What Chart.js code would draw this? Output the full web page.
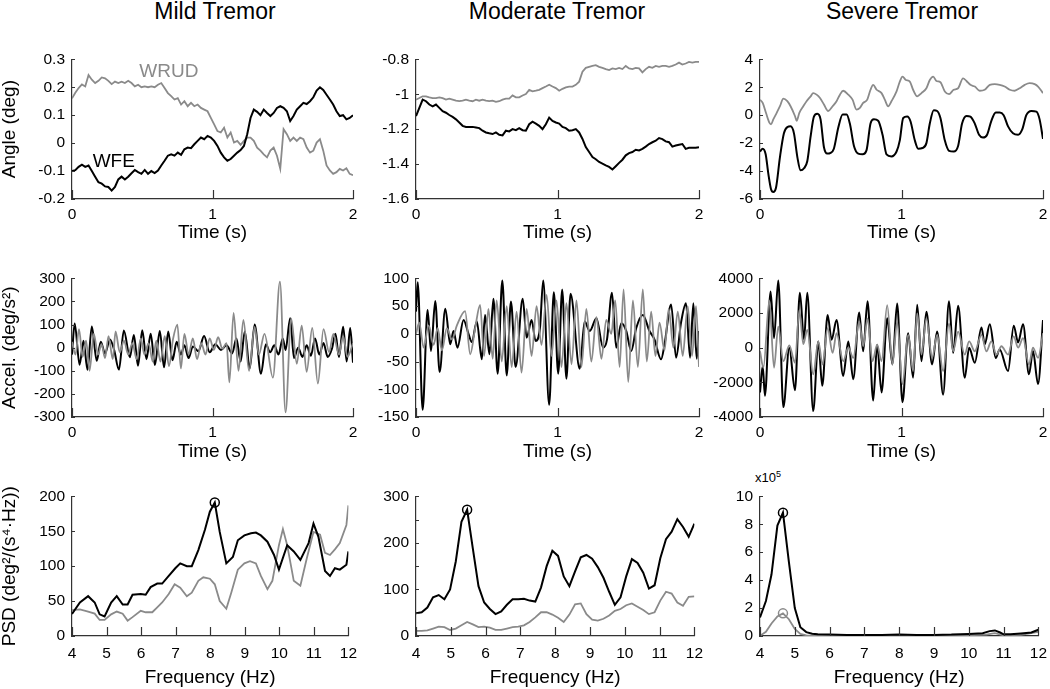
<!DOCTYPE html>
<html>
<head>
<meta charset="utf-8">
<title>Tremor recordings</title>
<script src="https://cdn.jsdelivr.net/npm/chart.js@4.4.1/dist/chart.umd.min.js"></script>
<style>
    body { margin: 0; background: #fff; }
    #figure { position: relative; width: 1050px; height: 689px; overflow: hidden; font-family: "Liberation Sans", Arial, Helvetica, sans-serif; }
    #figure canvas { position: absolute; }
    .colTitle { position: absolute; top: 0; width: 300px; text-align: center; font-size: 23px; line-height: 23px; color: #000; }
    .scaleNote { position: absolute; font-size: 13px; line-height: 13px; color: #000; }
    .scaleNote sup { font-size: 9px; vertical-align: 5px; line-height: 0; }
</style>
</head>
<body>
<div id="figure">
    <div class="colTitle" style="left: 65px;">Mild Tremor</div>
    <div class="colTitle" style="left: 407px;">Moderate Tremor</div>
    <div class="colTitle" style="left: 752px;">Severe Tremor</div>
    <div class="scaleNote" style="left: 755px; top: 471px;">x10<sup>5</sup></div>
</div>
<script>
const FONT = '"Liberation Sans", Arial, Helvetica, sans-serif';
const AXIS_COLOR = '#333';
const BLACK = '#000';
const GRAY = '#8a8a8a';

// ---- tick / axis ranges [min, max, step] ----
const timeRange = [0, 2, 1];
const freqRange = [4, 12, 1];
const mildAngleRange = [-0.2, 0.3, 0.1];
const modAngleRange = [-1.6, -0.8, 0.2];
const sevAngleRange = [-6, 4, 2];
const mildAccRange = [-300, 300, 100];
const modAccRange = [-150, 100, 50];
const sevAccRange = [-4000, 4000, 2000];
const mildPsdRange = [0, 200, 50];
const modPsdRange = [0, 300, 50];
const sevPsdRange = [0, 10, 2]; // x10^5

// ---- Mild tremor: angle (deg), evenly sampled over 0..2 s ----
const mildAngleWFE = [
    -0.10, -0.097, -0.085, -0.077, -0.085, -0.08, -0.10, -0.12, -0.14, -0.145,
    -0.155, -0.157, -0.17, -0.157, -0.13, -0.12, -0.13, -0.12, -0.108, -0.096,
    -0.104, -0.11, -0.096, -0.11, -0.10, -0.107, -0.098, -0.08, -0.063, -0.045,
    -0.04, -0.045, -0.034, -0.042, -0.022, -0.016, -0.018, -0.004, 0.008, 0.02,
    0.014, 0.026, 0.02, 0.008, -0.01, -0.034, -0.051, -0.063, -0.057, -0.045,
    -0.034, -0.025, -0.01, 0.032, 0.09, 0.12, 0.112, 0.10, 0.12, 0.108,
    0.097, 0.108, 0.126, 0.132, 0.126, 0.114, 0.079, 0.097, 0.12, 0.132,
    0.144, 0.14, 0.15, 0.164, 0.188, 0.20, 0.19, 0.173, 0.156, 0.138,
    0.114, 0.097, 0.10, 0.085, 0.09, 0.10
];
const mildAngleWRUD = [
    0.16, 0.18, 0.197, 0.21, 0.203, 0.244, 0.227, 0.215, 0.223, 0.235,
    0.232, 0.223, 0.211, 0.22, 0.215, 0.22, 0.215, 0.223, 0.215, 0.203,
    0.209, 0.2, 0.203, 0.2, 0.203, 0.2, 0.209, 0.215, 0.197, 0.179,
    0.168, 0.156, 0.161, 0.138, 0.15, 0.132, 0.144, 0.132, 0.138, 0.126,
    0.12, 0.114, 0.09, 0.067, 0.043, 0.038, 0.055, 0.02, 0.038, 0.002,
    0.008, -0.006, 0.008, 0.02, 0.02, 0.008, -0.016, -0.027, -0.04, -0.051,
    -0.027, -0.016, -0.045, -0.092, 0.05, 0.032, 0.008, 0.02, 0.008, 0.02,
    0.014, -0.016, -0.034, -0.027, 0.002, 0.014, -0.027, -0.08, -0.098, -0.11,
    -0.104, -0.092, -0.098, -0.09, -0.11, -0.115
];

// ---- Moderate tremor: angle (deg), evenly sampled over 0..2 s ----
const modAngleWFE = [
    -1.125, -1.078, -1.031, -1.04, -1.059, -1.069, -1.059, -1.078, -1.097, -1.106,
    -1.119, -1.13, -1.144, -1.162, -1.181, -1.187, -1.187, -1.187, -1.19, -1.194,
    -1.209, -1.219, -1.224, -1.228, -1.219, -1.232, -1.236, -1.209, -1.213, -1.2,
    -1.206, -1.194, -1.206, -1.209, -1.172, -1.157, -1.168, -1.181, -1.2, -1.172,
    -1.134, -1.153, -1.162, -1.168, -1.187, -1.194, -1.209, -1.206, -1.2, -1.219,
    -1.256, -1.303, -1.331, -1.36, -1.372, -1.388, -1.397, -1.407, -1.416, -1.431,
    -1.412, -1.393, -1.375, -1.35, -1.337, -1.331, -1.318, -1.322, -1.313, -1.3,
    -1.285, -1.275, -1.266, -1.251, -1.257, -1.27, -1.275, -1.3, -1.294, -1.289,
    -1.285, -1.313, -1.307, -1.307, -1.307, -1.303
];
const modAngleWRUD = [
    -1.031, -1.022, -1.012, -1.012, -1.018, -1.022, -1.022, -1.018, -1.022, -1.031,
    -1.025, -1.031, -1.037, -1.04, -1.037, -1.031, -1.037, -1.04, -1.031, -1.037,
    -1.031, -1.037, -1.04, -1.037, -1.044, -1.04, -1.031, -1.025, -1.025, -1.007,
    -1.018, -1.018, -1.007, -0.999, -0.975, -0.984, -0.98, -0.975, -0.965, -0.956,
    -0.946, -0.956, -0.965, -0.98, -0.969, -0.961, -0.956, -0.956, -0.946, -0.928,
    -0.871, -0.849, -0.843, -0.838, -0.834, -0.843, -0.849, -0.856, -0.862, -0.852,
    -0.856, -0.849, -0.856, -0.838, -0.852, -0.856, -0.849, -0.852, -0.875, -0.856,
    -0.843, -0.849, -0.838, -0.843, -0.838, -0.838, -0.843, -0.838, -0.83, -0.819,
    -0.83, -0.824, -0.815, -0.819, -0.815, -0.815
];

// ---- Severe tremor: angle (deg), time (s) / value pairs ----
const sevAngleTimeWFE = [
    0, 0.019, 0.04, 0.059, 0.078, 0.094, 0.113, 0.141, 0.169, 0.193,
    0.216, 0.24, 0.264, 0.287, 0.311, 0.334, 0.358, 0.381, 0.405, 0.428,
    0.452, 0.475, 0.499, 0.522, 0.553, 0.584, 0.612, 0.635, 0.664, 0.694,
    0.725, 0.753, 0.781, 0.805, 0.835, 0.866, 0.894, 0.929, 0.965, 0.988,
    1.012, 1.04, 1.064, 1.094, 1.118, 1.148, 1.176, 1.2, 1.228, 1.252,
    1.275, 1.306, 1.336, 1.369, 1.4, 1.428, 1.459, 1.487, 1.518, 1.548,
    1.576, 1.605, 1.635, 1.666, 1.694, 1.722, 1.753, 1.788, 1.824, 1.854,
    1.882, 1.918, 1.953, 1.976, 2.0
];
const sevAngleWFE = [
    -2.6, -2.4, -2.8, -4.2, -5.3, -5.5, -5.2, -3.0, -1.3, -0.85,
    -0.8, -1.3, -3.0, -3.95, -3.8, -3.3, -1.5, -0.1, 0.1, -0.3,
    -2.3, -2.75, -2.7, -2.4, -0.9, 0.05, 0.05, -0.6, -2.2, -2.75,
    -2.8, -2.5, -0.6, -0.3, -0.4, -1.4, -2.8, -2.95, -2.6, -1.8,
    -0.2, -0.1, -0.45, -1.8, -2.4, -2.35, -2.0, -0.6, 0.35, 0.3,
    -0.2, -1.8, -2.55, -2.6, -2.2, -0.6, -0.05, -0.1, -0.6, -1.4,
    -1.6, -1.4, -0.4, 0.2, 0.2, 0.0, -0.8, -1.3, -1.4, -1.0,
    0.0, 0.3, 0.25, -0.3, -1.7
];
const sevAngleTimeWRUD = [
    0, 0.019, 0.042, 0.066, 0.078, 0.094, 0.118, 0.141, 0.165, 0.193,
    0.216, 0.247, 0.259, 0.278, 0.306, 0.329, 0.358, 0.376, 0.4, 0.424,
    0.452, 0.482, 0.513, 0.541, 0.565, 0.588, 0.624, 0.654, 0.682, 0.706,
    0.729, 0.758, 0.781, 0.8, 0.824, 0.859, 0.882, 0.906, 0.929, 0.965,
    0.988, 1.007, 1.031, 1.059, 1.082, 1.111, 1.141, 1.176, 1.2, 1.224,
    1.247, 1.275, 1.306, 1.336, 1.369, 1.4, 1.435, 1.459, 1.487, 1.518,
    1.553, 1.588, 1.624, 1.659, 1.694, 1.729, 1.765, 1.8, 1.835, 1.871,
    1.906, 1.941, 1.965, 2.0
];
const sevAngleWRUD = [
    1.1, 0.88, 0.17, -0.53, -0.65, -0.3, 0.17, 0.64, 1.18, 1.0,
    0.64, -0.06, -0.4, 0.17, 0.64, 1.0, 1.35, 1.58, 1.47, 1.23,
    0.76, 0.3, 0.64, 1.0, 1.47, 1.75, 1.47, 1.11, 0.4, 0.52,
    0.88, 1.11, 1.82, 2.17, 1.82, 1.58, 1.11, 0.64, 1.0, 1.7,
    2.4, 2.76, 2.52, 2.4, 1.82, 1.35, 1.58, 1.93, 2.52, 2.76,
    2.45, 2.36, 1.7, 1.51, 1.82, 1.93, 2.64, 2.45, 2.17, 2.05,
    1.75, 1.82, 2.17, 2.22, 2.17, 2.05, 1.82, 1.75, 1.93, 2.17,
    2.29, 2.22, 2.05, 1.58
];

// ---- Mild tremor: acceleration (deg/s^2) ----
const mildAccTimeWFE = [
    0, 0.019, 0.054, 0.082, 0.11, 0.141, 0.176, 0.205, 0.235, 0.27,
    0.3, 0.334, 0.369, 0.412, 0.44, 0.47, 0.5, 0.53, 0.56, 0.59,
    0.625, 0.655, 0.685, 0.715, 0.745, 0.775, 0.8, 0.83, 0.86, 0.9,
    0.94, 0.98, 1.02, 1.06, 1.1, 1.14, 1.17, 1.2, 1.23, 1.265,
    1.3, 1.345, 1.38, 1.41, 1.44, 1.47, 1.5, 1.52, 1.553, 1.58,
    1.61, 1.64, 1.67, 1.7, 1.73, 1.76, 1.79, 1.82, 1.85, 1.875,
    1.9, 1.93, 1.955, 1.98, 2.0
];
const mildAccWFE = [
    -30, 105, -74, 30, -96, 92, -57, 25, -25, 35,
    -10, -95, 74, -42, 55, -78, 75, -50, 60, -75,
    72, -85, 70, -55, 25, -30, 10, -45, 5, -15,
    50, -20, 15, -10, 10, -25, 40, -60, 70, -90,
    100, -113, 15, -20, 10, -30, 40, -10, 127, -45,
    0, -40, 10, -35, 40, -30, 20, -40, -5, 60,
    -40, 90, -60, 85, -65
];
const mildAccTimeWRUD = [
    0, 0.025, 0.05, 0.075, 0.1, 0.125, 0.155, 0.185, 0.21, 0.235,
    0.26, 0.29, 0.31, 0.34, 0.37, 0.4, 0.43, 0.46, 0.49, 0.515,
    0.545, 0.575, 0.6, 0.63, 0.66, 0.69, 0.72, 0.75, 0.775, 0.8,
    0.83, 0.86, 0.89, 0.92, 0.95, 0.98, 1.01, 1.04, 1.07, 1.1,
    1.12, 1.15, 1.185, 1.22, 1.26, 1.3, 1.33, 1.37, 1.43, 1.48,
    1.52, 1.56, 1.6, 1.635, 1.67, 1.71, 1.75, 1.79, 1.83, 1.86,
    1.9, 1.93, 1.96, 2.0
];
const mildAccWRUD = [
    25, -30, 80, -40, 30, -100, 60, -30, 15, -45,
    50, -50, 70, -20, 30, -30, 20, -50, 40, -30,
    20, -60, 30, -60, 50, -80, 40, 100, -90, 60,
    -30, 40, -50, 20, -30, 40, -10, 45, -5, 20,
    -150, 150, -100, 120, -100, 90, -30, 60, -130, 285,
    -280, 125, -70, 95, -105, 85, -155, 80, -20, 60,
    -30, 50, -40, 20
];

// ---- Moderate tremor: acceleration (deg/s^2) ----
const modAccTimeWFE = [
    0, 0.012, 0.047, 0.082, 0.106, 0.136, 0.167, 0.207, 0.242, 0.265,
    0.293, 0.336, 0.371, 0.394, 0.43, 0.465, 0.488, 0.519, 0.547, 0.577,
    0.61, 0.641, 0.671, 0.704, 0.754, 0.782, 0.817, 0.845, 0.876, 0.899,
    0.941, 0.974, 1.005, 1.033, 1.063, 1.092, 1.157, 1.192, 1.228, 1.275,
    1.322, 1.35, 1.385, 1.415, 1.451, 1.486, 1.521, 1.556, 1.603, 1.65,
    1.685, 1.732, 1.756, 1.803, 1.838, 1.873, 1.908, 1.937, 1.96, 1.984,
    2.0
];
const modAccWFE = [
    40, 93, -137, 43, -31, 59, -69, 45, -19, 5,
    -25, 25, 0, -15, 22, -46, 34, -37, 63, -72,
    96, -75, 58, -60, 63, -7, 25, -13, 10, 96,
    -128, 75, -72, 80, -81, 72, -63, 22, 5, 28,
    -25, -10, 74, -25, 19, 5, -31, 10, 34, 5,
    -10, -46, -20, 53, -43, 20, 55, -43, 55, -45,
    5
];
const modAccTimeWRUD = [
    0, 0.023, 0.054, 0.089, 0.124, 0.153, 0.183, 0.218, 0.254, 0.289,
    0.347, 0.383, 0.418, 0.453, 0.481, 0.512, 0.542, 0.57, 0.606, 0.641,
    0.676, 0.711, 0.746, 0.782, 0.817, 0.852, 0.887, 0.923, 0.958, 0.993,
    1.028, 1.063, 1.099, 1.134, 1.169, 1.204, 1.239, 1.275, 1.31, 1.345,
    1.38, 1.408, 1.439, 1.467, 1.5, 1.533, 1.568, 1.603, 1.631, 1.662,
    1.692, 1.721, 1.756, 1.786, 1.819, 1.85, 1.885, 1.92, 1.951, 1.979,
    2.0
];
const modAccWRUD = [
    0, 20, -25, 15, -20, 10, -30, 10, -10, 15,
    41, -37, 10, 52, -40, 45, -45, 60, -50, 50,
    -60, 40, -70, 45, -40, 50, -20, 70, -40, 60,
    -60, 55, -55, 60, -60, 45, -50, 30, -45, 25,
    0, 60, -60, 80, -87, 60, -60, 80, -50, 40,
    -40, 20, -30, 45, -25, 40, -40, 50, -40, 50,
    -60
];

// ---- Severe tremor: acceleration (deg/s^2) ----
const sevAccTimeWFE = [
    0, 0.019, 0.035, 0.075, 0.099, 0.129, 0.165, 0.207, 0.247, 0.282,
    0.311, 0.334, 0.376, 0.412, 0.44, 0.478, 0.506, 0.541, 0.588, 0.624,
    0.659, 0.701, 0.729, 0.76, 0.8, 0.828, 0.859, 0.899, 0.936, 0.969,
    1.007, 1.047, 1.082, 1.111, 1.141, 1.176, 1.216, 1.252, 1.294, 1.336,
    1.365, 1.4, 1.447, 1.478, 1.518, 1.565, 1.588, 1.624, 1.666, 1.694,
    1.753, 1.793, 1.824, 1.859, 1.901, 1.929, 1.965, 2.0
];
const sevAccWFE = [
    -2580, -1060, -2770, 3240, 550, 3870, -3430, 0, -2450, 3170,
    455, 3170, -3660, 360, -2200, 1880, 455, 1590, -1630, 360,
    -1820, 2030, -210, 2670, -3050, 170, -2580, 1690, -970, 2540,
    -3150, 830, -1730, 2480, -780, 2070, -970, 930, -2710, 2670,
    -300, 2410, -1730, 0, -870, 1160, 200, 1350, -590, -100,
    -1350, 1270, 300, 1350, -1540, -200, -2100, 1590
];
const sevAccTimeWRUD = [
    0, 0.024, 0.066, 0.099, 0.129, 0.165, 0.207, 0.247, 0.278, 0.306,
    0.334, 0.376, 0.412, 0.442, 0.478, 0.513, 0.541, 0.588, 0.624, 0.659,
    0.701, 0.729, 0.76, 0.795, 0.828, 0.859, 0.899, 0.936, 0.969, 1.007,
    1.047, 1.082, 1.111, 1.141, 1.176, 1.216, 1.252, 1.294, 1.336, 1.365,
    1.4, 1.447, 1.478, 1.518, 1.565, 1.6, 1.635, 1.671, 1.706, 1.753,
    1.793, 1.824, 1.859, 1.901, 1.929, 1.965, 2.0
];
const sevAccWRUD = [
    -210, -1160, 2730, -1160, 1210, -780, 130, -870, 2160, 200,
    1020, -1540, 360, -970, 1120, -300, 830, -780, 0, -590,
    1500, 80, 1690, -780, 170, -780, 2450, -970, 1500, -2100,
    740, -1350, 1970, -400, 1690, -590, 740, -1350, 1400, -210,
    930, -400, 360, -210, 740, -210, 360, -400, 80, -400,
    645, 0, 550, -970, 0, -590, 830
];

// ---- Mild tremor: PSD (deg^2/(s^4*Hz)) ----
const mildPsdFreqWFE = [
    4.0, 4.229, 4.467, 4.657, 4.8, 4.943, 5.133, 5.295, 5.467, 5.61,
    5.752, 5.99, 6.133, 6.276, 6.467, 6.61, 6.8, 6.99, 7.133, 7.324,
    7.467, 7.657, 7.848, 7.99, 8.133, 8.276, 8.467, 8.657, 8.8, 8.99,
    9.181, 9.324, 9.467, 9.657, 9.848, 9.99, 10.229, 10.419, 10.61, 10.848,
    10.99, 11.133, 11.324, 11.467, 11.61, 11.752, 11.943, 12.0
];
const mildPsdWFE = [
    31.5, 48, 57, 48, 31, 28, 48, 57, 45, 45,
    59, 60, 59, 70, 75, 75, 86, 97, 104, 100,
    100, 123, 152, 178, 191, 149, 104, 113, 137, 144,
    147, 148, 144, 135, 116, 95, 130, 121, 109, 133,
    161, 142, 93, 86, 97, 95, 102, 121
];
const mildPsdFreqWRUD = [
    4.0, 4.229, 4.467, 4.657, 4.8, 4.943, 5.133, 5.295, 5.467, 5.61,
    5.752, 5.99, 6.133, 6.324, 6.467, 6.61, 6.8, 6.971, 7.133, 7.324,
    7.467, 7.657, 7.8, 7.99, 8.133, 8.276, 8.467, 8.61, 8.8, 8.99,
    9.152, 9.324, 9.467, 9.657, 9.8, 9.99, 10.105, 10.229, 10.419, 10.61,
    10.8, 10.99, 11.181, 11.324, 11.467, 11.61, 11.752, 11.943, 12.0
];
const mildPsdWRUD = [
    37, 38, 35, 32, 23, 23, 31, 35, 32, 22,
    27, 36, 34, 34, 41, 48, 60, 74, 69, 57,
    62, 79, 84, 82, 74, 50, 39, 62, 95, 104,
    107, 104, 86, 67, 79, 130, 153, 130, 79, 72,
    112, 149, 145, 119, 116, 124, 133, 159, 187
];
const mildPsdPeak = [8.133, 191];

// ---- Moderate tremor: PSD, evenly spaced bins 4..12 Hz ----
const modPsdWFE = [
    49, 51, 61, 83, 88, 79, 100, 160, 245, 271,
    188, 107, 72, 58, 47, 53, 67, 79, 79, 80,
    76, 74, 104, 150, 183, 172, 128, 107, 139, 169,
    174, 166, 148, 125, 95, 67, 83, 128, 165, 157,
    136, 102, 109, 167, 208, 224, 251, 234, 213, 241
];
const modPsdWRUD = [
    11, 11, 12, 16, 20, 19, 13, 16, 23, 30,
    25, 19, 20, 18, 13, 13, 16, 19, 20, 23,
    30, 40, 51, 51, 46, 39, 30, 46, 68, 70,
    47, 35, 33, 37, 44, 54, 58, 66, 70, 63,
    56, 47, 51, 76, 95, 91, 72, 65, 84, 85
];
const modPsdPeak = [5.469, 271];

// ---- Severe tremor: PSD (x10^5) ----
const sevPsdFreqWFE = [
    4, 4.17, 4.33, 4.5, 4.66, 4.83, 5, 5.16, 5.33, 5.5,
    5.66, 6, 6.5, 7, 7.5, 8, 8.5, 9, 9.5, 10,
    10.4, 10.6, 10.75, 10.9, 11, 11.2, 11.5, 11.8, 12
];
const sevPsdWFE = [
    1.33, 2.5, 4.4, 7.9, 8.83, 5.3, 2.0, 0.63, 0.28, 0.16,
    0.12, 0.1, 0.08, 0.07, 0.08, 0.1, 0.08, 0.08, 0.1, 0.15,
    0.2, 0.35, 0.4, 0.25, 0.12, 0.12, 0.18, 0.25, 0.45
];
const sevPsdFreqWRUD = [
    4, 4.17, 4.33, 4.5, 4.66, 4.83, 5, 5.16, 5.33, 5.5,
    6, 7, 8, 9, 10, 10.5, 10.75, 11, 11.5, 12
];
const sevPsdWRUD = [
    0.02, 0.3, 0.9, 1.4, 1.62, 1.2, 0.5, 0.15, 0.05, 0.02,
    0.02, 0.02, 0.03, 0.02, 0.05, 0.1, 0.2, 0.05, 0.08, 0.3
];
const sevPsdPeakWFE = [4.66, 8.83];
const sevPsdPeakWRUD = [4.66, 1.62];

// ---- layout of the 3x3 grid (plot area edges, px) ----
const colLeft = [72, 416, 760];
const colRight = [353, 699, 1043];
const rowTop = [57, 276, 494];
const rowBottom = [199, 417, 636];
const xTickPad = [6, 6, 8];
const xTitlePad = [12.5, 11.5, 4.5];
const Y_AXIS_W = 72;
const X_AXIS_H = 56;
const PAD_TOP = 14;
const PAD_RIGHT = 12;

function evenPoints(values, x0, x1) {
    const step = (x1 - x0) / (values.length - 1);
    return values.map((v, i) => ({ x: x0 + i * step, y: v }));
}

function pairPoints(xs, ys) {
    return xs.map((x, i) => ({ x: x, y: ys[i] }));
}

function trace(data, color, smooth) {
    return {
        data: data,
        borderColor: color,
        borderWidth: color === BLACK ? 2 : 1.8,
        pointRadius: 0,
        fill: false,
        tension: smooth ? 0.4 : 0,
        cubicInterpolationMode: smooth ? 'monotone' : 'default'
    };
}

function peak(xy, color) {
    return {
        data: [{ x: xy[0], y: xy[1] }],
        showLine: false,
        pointRadius: 4.5,
        pointStyle: 'circle',
        pointBorderColor: color,
        pointBorderWidth: 1.5,
        pointBackgroundColor: 'rgba(0,0,0,0)'
    };
}

function tickText(v) {
    return String(Math.round(v * 1000) / 1000);
}

// inward tick marks (MATLAB look) plus in-plot text labels
const axisDecor = {
    id: 'axisDecor',
    afterDraw(chart, args, opts) {
        const ctx = chart.ctx;
        const area = chart.chartArea;
        const xs = chart.scales.x;
        const ys = chart.scales.y;
        ctx.save();
        ctx.strokeStyle = AXIS_COLOR;
        ctx.lineWidth = 1.2;
        ctx.beginPath();
        xs.ticks.forEach(t => {
            const px = Math.round(xs.getPixelForValue(t.value)) + 0.5;
            ctx.moveTo(px, area.bottom);
            ctx.lineTo(px, area.bottom - opts.xLen);
        });
        ys.ticks.forEach(t => {
            const py = Math.round(ys.getPixelForValue(t.value)) + 0.5;
            ctx.moveTo(area.left, py);
            ctx.lineTo(area.left + opts.yLen, py);
        });
        ctx.stroke();

        (opts.labels || []).forEach(l => {
            ctx.font = '19px ' + FONT;
            ctx.fillStyle = l.color;
            ctx.textAlign = 'left';
            ctx.textBaseline = 'alphabetic';
            ctx.fillText(l.text, xs.getPixelForValue(l.x), ys.getPixelForValue(l.y));
        });
        ctx.restore();
    }
};

const panels = [
    {
        col: 0, row: 0, xRange: timeRange, yRange: mildAngleRange, xTitle: 'Time (s)', yTitle: 'Angle (deg)',
        datasets: [
            trace(evenPoints(mildAngleWFE, 0, 2), BLACK, false),
            trace(evenPoints(mildAngleWRUD, 0, 2), GRAY, false)
        ],
        labels: [
            { text: 'WRUD', x: 0.479, y: 0.237, color: GRAY },
            { text: 'WFE', x: 0.147, y: -0.086, color: BLACK }
        ]
    },
    {
        col: 1, row: 0, xRange: timeRange, yRange: modAngleRange, xTitle: 'Time (s)',
        datasets: [
            trace(evenPoints(modAngleWFE, 0, 2), BLACK, false),
            trace(evenPoints(modAngleWRUD, 0, 2), GRAY, false)
        ]
    },
    {
        col: 2, row: 0, xRange: timeRange, yRange: sevAngleRange, xTitle: 'Time (s)',
        datasets: [
            trace(pairPoints(sevAngleTimeWFE, sevAngleWFE), BLACK, true),
            trace(pairPoints(sevAngleTimeWRUD, sevAngleWRUD), GRAY, true)
        ]
    },
    {
        col: 0, row: 1, xRange: timeRange, yRange: mildAccRange, xTitle: 'Time (s)', yTitle: 'Accel. (deg/s\u00b2)',
        datasets: [
            trace(pairPoints(mildAccTimeWRUD, mildAccWRUD), GRAY, true),
            trace(pairPoints(mildAccTimeWFE, mildAccWFE), BLACK, true)
        ]
    },
    {
        col: 1, row: 1, xRange: timeRange, yRange: modAccRange, xTitle: 'Time (s)',
        datasets: [
            trace(pairPoints(modAccTimeWRUD, modAccWRUD), GRAY, true),
            trace(pairPoints(modAccTimeWFE, modAccWFE), BLACK, true)
        ]
    },
    {
        col: 2, row: 1, xRange: timeRange, yRange: sevAccRange, xTitle: 'Time (s)',
        datasets: [
            trace(pairPoints(sevAccTimeWRUD, sevAccWRUD), GRAY, true),
            trace(pairPoints(sevAccTimeWFE, sevAccWFE), BLACK, true)
        ]
    },
    {
        col: 0, row: 2, xRange: freqRange, yRange: mildPsdRange, xTitle: 'Frequency (Hz)', yTitle: 'PSD (deg\u00b2/(s\u2074\u00b7Hz))',
        datasets: [
            peak(mildPsdPeak, BLACK),
            trace(pairPoints(mildPsdFreqWFE, mildPsdWFE), BLACK, false),
            trace(pairPoints(mildPsdFreqWRUD, mildPsdWRUD), GRAY, false)
        ]
    },
    {
        col: 1, row: 2, xRange: freqRange, yRange: modPsdRange, xTitle: 'Frequency (Hz)', yLabelEvery: 100,
        datasets: [
            peak(modPsdPeak, BLACK),
            trace(evenPoints(modPsdWFE, 4, 12), BLACK, false),
            trace(evenPoints(modPsdWRUD, 4, 12), GRAY, false)
        ]
    },
    {
        col: 2, row: 2, xRange: freqRange, yRange: sevPsdRange, xTitle: 'Frequency (Hz)',
        datasets: [
            peak(sevPsdPeakWFE, BLACK),
            peak(sevPsdPeakWRUD, GRAY),
            trace(pairPoints(sevPsdFreqWFE, sevPsdWFE), BLACK, false),
            trace(pairPoints(sevPsdFreqWRUD, sevPsdWRUD), GRAY, false)
        ]
    }
];

function buildPanel(p) {
    const plotW = colRight[p.col] - colLeft[p.col];
    const plotH = rowBottom[p.row] - rowTop[p.row];
    const canvas = document.createElement('canvas');
    canvas.width = Y_AXIS_W + plotW + PAD_RIGHT;
    canvas.height = PAD_TOP + plotH + X_AXIS_H;
    canvas.style.left = (colLeft[p.col] - Y_AXIS_W) + 'px';
    canvas.style.top = (rowTop[p.row] - PAD_TOP) + 'px';
    document.getElementById('figure').appendChild(canvas);

    const tickFont = { family: FONT, size: 15.5 };
    const titleFont = { family: FONT, size: 19, lineHeight: 1 };

    new Chart(canvas, {
        type: 'line',
        data: { datasets: p.datasets },
        options: {
            responsive: false,
            animation: false,
            devicePixelRatio: 1,
            layout: { padding: { top: PAD_TOP, right: PAD_RIGHT, left: 0, bottom: 0 } },
            plugins: {
                legend: { display: false },
                tooltip: { enabled: false },
                axisDecor: { xLen: 9, yLen: 3, labels: p.labels }
            },
            scales: {
                x: {
                    type: 'linear',
                    min: p.xRange[0],
                    max: p.xRange[1],
                    grid: { drawOnChartArea: false, drawTicks: false },
                    border: { color: AXIS_COLOR, width: 1.2 },
                    ticks: {
                        stepSize: p.xRange[2],
                        autoSkip: false,
                        maxRotation: 0,
                        padding: xTickPad[p.row],
                        color: '#000',
                        font: tickFont,
                        callback: v => tickText(v)
                    },
                    title: {
                        display: true,
                        text: p.xTitle,
                        color: '#000',
                        font: titleFont,
                        padding: { top: 0, bottom: xTitlePad[p.row] }
                    },
                    afterFit: s => { s.height = X_AXIS_H; }
                },
                y: {
                    min: p.yRange[0],
                    max: p.yRange[1],
                    grid: { drawOnChartArea: false, drawTicks: false },
                    border: { color: AXIS_COLOR, width: 1.2 },
                    ticks: {
                        stepSize: p.yRange[2],
                        autoSkip: false,
                        padding: 7,
                        color: '#000',
                        font: tickFont,
                        callback: v => (p.yLabelEvery && Math.abs(v % p.yLabelEvery) > 1e-9) ? '' : tickText(v)
                    },
                    title: {
                        display: !!p.yTitle,
                        text: p.yTitle || '',
                        color: '#000',
                        font: titleFont,
                        padding: { top: 0, bottom: 0 }
                    },
                    afterFit: s => { s.width = Y_AXIS_W; }
                }
            }
        },
        plugins: [axisDecor]
    });
}

panels.forEach(buildPanel);
</script>
</body>
</html>
